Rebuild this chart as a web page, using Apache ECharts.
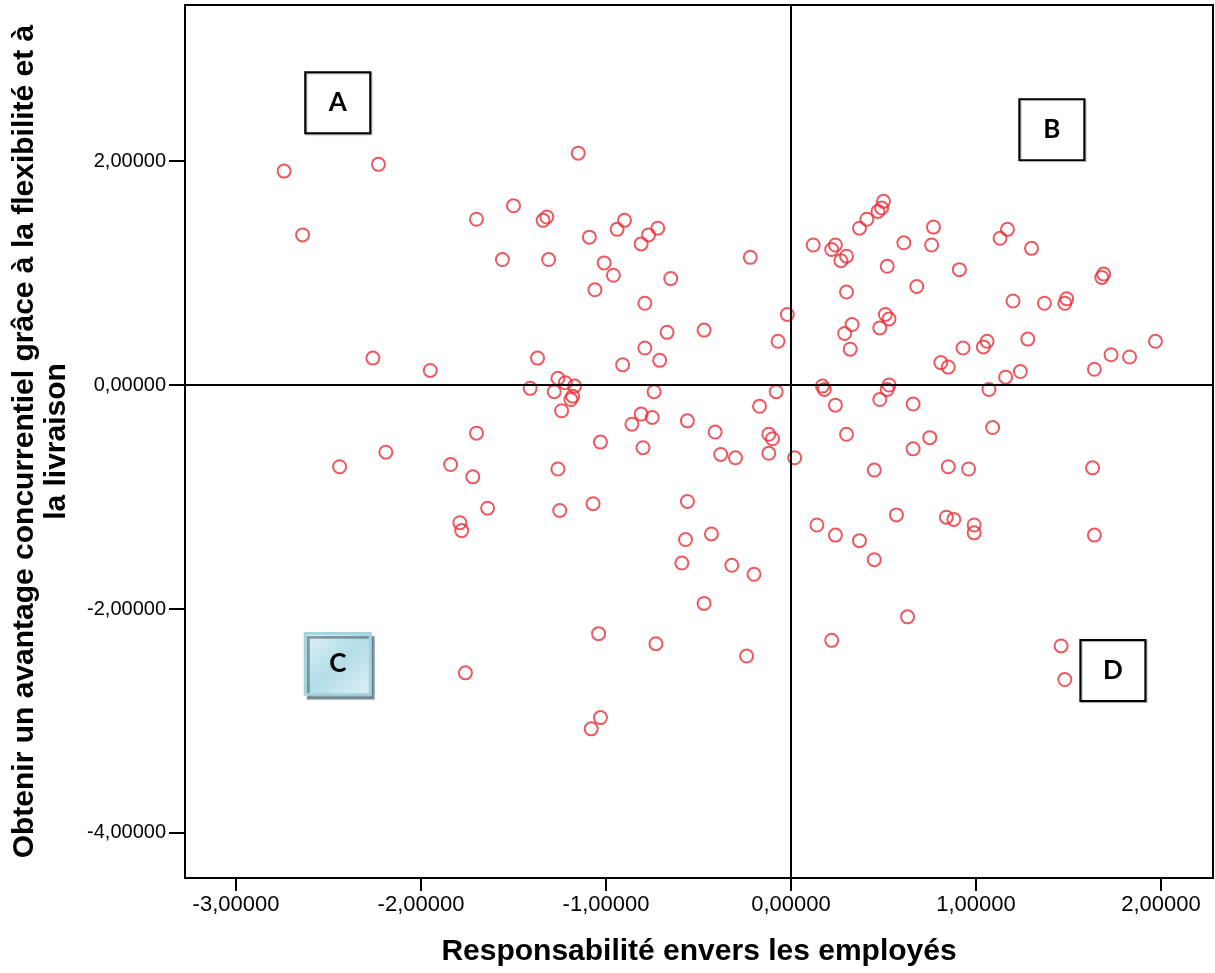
<!DOCTYPE html>
<html>
<head>
<meta charset="utf-8">
<script src="https://cdn.jsdelivr.net/npm/echarts@6.0.0/dist/echarts.min.js"></script>
<style>
  html, body { margin: 0; padding: 0; background: #fff; }
  #main { width: 1215px; height: 973px; }
</style>
</head>
<body>
<div id="main"></div>
<script>
// axe X : Responsabilité envers les employés
const respX = [
  -2.74, -2.23, -2.64, -1.70, -1.50, -1.56, -2.26, -1.95, -1.41, -1.15,
  -1.34, -1.32, -0.90, -0.94, -1.09, -0.72, -0.77, -0.81, -1.31, -1.01,
  -0.96, -0.65, -1.06, -0.22, -0.79, -0.02, 0.12, 0.22, 0.24, 0.30,
  0.27, 0.37, 0.41, 0.30, 0.33, 0.29, 0.32, -0.47, -0.67, -0.79,
  -0.91, -0.71, -0.07, -1.37, -1.26, -1.22, -1.17, -1.28, -1.18, -1.19,
  -1.24, -0.74, -0.08, 0.17, 0.18, 0.50, 0.49, 0.47, 0.77, 0.61,
  0.76, 1.17, 1.13, 1.30, 0.52, 0.91, 0.68, 1.69, 1.68, 1.20,
  1.37, 1.49, 1.48, 0.51, 0.53, 0.48, 0.93, 1.06, 1.04, 1.28,
  1.97, 1.73, 1.83, 1.64, 0.81, 0.85, 1.16, 1.24, 0.53, 0.52,
  0.48, 0.66, 1.07, -1.70, -2.19, -2.44, -1.84, -1.72, -1.64, -1.79,
  -1.78, -1.76, -0.17, 0.24, -0.81, -0.75, -0.86, -0.56, -0.41, -0.12,
  -0.10, -1.03, -0.80, -0.38, -0.30, -0.12, 0.02, 0.30, -1.26, -1.25,
  -1.07, -0.56, 0.14, 0.24, 0.37, -0.43, -0.57, -0.59, -0.32, -0.20,
  -0.47, -1.04, -0.73, -0.24, 0.22, -1.03, -1.08, 1.09, 0.75, 0.66,
  0.45, 0.85, 0.96, 1.63, 0.57, 0.84, 0.88, 0.99, 0.99, 1.64,
  0.45, 0.63, 1.46, 1.48
];
// axe Y : avantage concurrentiel (flexibilité / livraison)
const avantY = [
  1.91, 1.97, 1.34, 1.48, 1.60, 1.12, 0.24, 0.13, -0.03, 2.07,
  1.47, 1.50, 1.47, 1.39, 1.32, 1.40, 1.34, 1.26, 1.12, 1.09,
  0.98, 0.95, 0.85, 1.14, 0.73, 0.63, 1.25, 1.21, 1.25, 1.15,
  1.11, 1.40, 1.48, 0.83, 0.54, 0.46, 0.32, 0.49, 0.47, 0.33,
  0.18, 0.22, 0.39, 0.24, 0.06, 0.02, -0.01, -0.06, -0.10, -0.13,
  -0.23, -0.06, -0.06, -0.01, -0.04, 1.64, 1.58, 1.55, 1.41, 1.27,
  1.25, 1.39, 1.31, 1.22, 1.06, 1.03, 0.88, 0.99, 0.96, 0.75,
  0.73, 0.77, 0.73, 0.63, 0.59, 0.51, 0.33, 0.39, 0.34, 0.41,
  0.39, 0.27, 0.25, 0.14, 0.20, 0.16, 0.07, 0.12, 0.00, -0.04,
  -0.13, -0.17, -0.04, -0.43, -0.60, -0.73, -0.71, -0.82, -1.10, -1.23,
  -1.30, -2.57, -0.19, -0.18, -0.26, -0.29, -0.35, -0.32, -0.42, -0.44,
  -0.48, -0.51, -0.56, -0.62, -0.65, -0.61, -0.65, -0.44, -0.75, -1.12,
  -1.06, -1.04, -1.25, -1.34, -1.39, -1.33, -1.38, -1.59, -1.61, -1.69,
  -1.95, -2.22, -2.31, -2.42, -2.28, -2.97, -3.07, -0.38, -0.47, -0.57,
  -0.76, -0.73, -0.75, -0.74, -1.16, -1.18, -1.20, -1.25, -1.32, -1.34,
  -1.56, -2.07, -2.33, -2.63
];
const xTicks = [-3, -2, -1, 0, 1, 2];
const yTicks = [-4, -2, 0, 2];
// cadres A B C D (quadrants)
const boxLabels = ['A', 'B', 'C', 'D'];
const boxX = [-2.45, 1.41, -2.45, 1.74];
const boxY = [2.52, 2.28, -2.49, -2.55];

const points = respX.map((x, i) => [x, avantY[i]]);
const fmt = v => v.toFixed(5).replace('.', ',');

const plainBox = {
  color: '#fff', borderColor: '#000', borderWidth: 2,
  shadowColor: 'rgba(0,0,0,0.35)', shadowBlur: 1, shadowOffsetX: 1, shadowOffsetY: 1
};
const blueBox = {
  color: new echarts.graphic.LinearGradient(0, 0, 1, 1, [
    { offset: 0, color: '#e4f3f7' },
    { offset: 0.5, color: '#b3dde8' },
    { offset: 1, color: '#e0f1f6' }
  ]),
  borderColor: '#a3d4e0', borderWidth: 3,
  shadowColor: 'rgba(70,100,110,0.6)', shadowBlur: 0, shadowOffsetX: 3, shadowOffsetY: 4
};

const boxes = boxLabels.map((b, i) => ({
  name: b,
  coord: [boxX[i], boxY[i]],
  symbolSize: [65, 61],
  itemStyle: b === 'C' ? blueBox : plainBox
}));

let chart = echarts.init(document.getElementById('main'), null, { renderer: 'canvas' });

chart.setOption({
  animation: false,
  backgroundColor: '#fff',
  grid: {
    left: 185, top: 5, width: 1028, height: 873,
    show: true, borderColor: '#000', borderWidth: 2,
    outerBoundsMode: 'none'
  },
  xAxis: {
    type: 'value',
    min: -3.2757, max: 2.2811,
    name: 'Responsabilité envers les employés',
    nameLocation: 'middle',
    nameGap: 59,
    nameTextStyle: { fontFamily: 'Liberation Sans', fontWeight: 'bold', fontSize: 30, color: '#000' },
    splitLine: { show: false },
    axisLine: { onZero: false, lineStyle: { color: '#000', width: 2 } },
    axisTick: { show: true, length: 13, customValues: xTicks, lineStyle: { color: '#000', width: 2 } },
    axisLabel: {
      customValues: xTicks, formatter: fmt, margin: 16,
      fontFamily: 'Liberation Sans', fontSize: 22, color: '#000'
    }
  },
  yAxis: {
    type: 'value',
    min: -4.402, max: 3.393,
    name: 'Obtenir un avantage concurrentiel grâce à la flexibilité et à\nla livraison',
    nameLocation: 'middle',
    nameGap: 112,
    nameTextStyle: { fontFamily: 'Liberation Sans', fontWeight: 'bold', fontSize: 30, color: '#000', lineHeight: 32, align: 'center' },
    splitLine: { show: false },
    axisLine: { onZero: false, lineStyle: { color: '#000', width: 2 } },
    axisTick: { show: true, length: 16, customValues: yTicks, lineStyle: { color: '#000', width: 2 } },
    axisLabel: {
      customValues: yTicks, formatter: fmt, margin: 19,
      fontFamily: 'Liberation Sans', fontSize: 20, color: '#000'
    }
  },
  series: [{
    type: 'scatter',
    data: points,
    symbol: 'circle',
    symbolSize: 13,
    itemStyle: { color: 'rgba(0,0,0,0)', borderColor: '#e8303a', borderWidth: 2 },
    emphasis: { disabled: true },
    markLine: {
      silent: true,
      symbol: ['none', 'none'],
      label: { show: false },
      lineStyle: { color: '#000', width: 2, type: 'solid' },
      data: [{ xAxis: 0 }, { yAxis: 0 }]
    },
    markPoint: {
      silent: true,
      symbol: 'rect',
      label: {
        show: true, position: 'inside', formatter: '{b}',
        fontFamily: 'Lato', fontWeight: 'bold', fontSize: 26, color: '#000'
      },
      data: boxes
    }
  }]
});
</script>
</body>
</html>
